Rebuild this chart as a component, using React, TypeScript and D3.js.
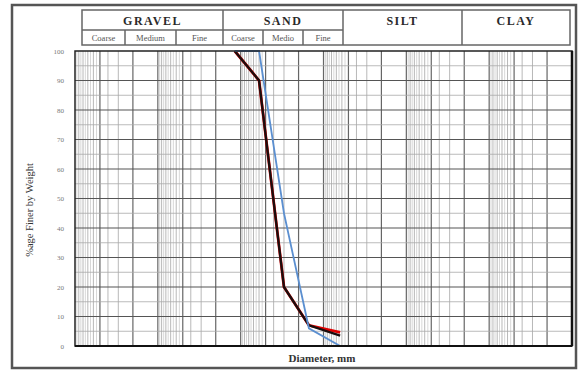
import React from 'react';
import * as d3 from 'd3';

// ---- data ----
const yTicks = [0, 10, 20, 30, 40, 50, 60, 70, 80, 90, 100];
const sieveSizes = [1.18, 0.6, 0.3, 0.15, 0.063];
const blackPassing = [100, 90, 20, 7, 3.5];
const redPassing = [100, 90, 20, 7, 4.6];
const blueSieves = [1.18, 0.6, 0.3, 0.15, 0.063];
const bluePassing = [100, 100, 45, 6, 0];

const soilGroups = ['GRAVEL', 'SAND', 'SILT', 'CLAY'];
const gravelSubs = ['Coarse', 'Medium', 'Fine'];
const sandSubs = ['Coarse', 'Medio', 'Fine'];

const W = 579, H = 372;
const plot = { left: 75, right: 572, top: 51, bottom: 346 };

export default function App() {
  const x = d3.scaleLog().domain([100, 0.0001]).range([plot.left, plot.right]);
  const y = d3.scaleLinear().domain([0, 100]).range([plot.bottom, plot.top]);

  // vertical grid values
  const vLines: { v: number; major: boolean; faint: boolean }[] = [];
  for (let k = -4; k <= 1; k++) {
    for (let m = 1; m <= 9; m++) {
      const v = m * Math.pow(10, k);
      vLines.push({ v, major: m === 1 || m === 2 || m === 5, faint: false });
    }
    for (const m of [5.5, 6.5, 7.5, 8.5, 9.5]) {
      vLines.push({ v: m * Math.pow(10, k), major: false, faint: true });
    }
  }
  const hLines: number[] = [];
  for (let v = 5; v < 100; v += 5) hLines.push(v);

  const line = d3.line<[number, number]>().x(d => x(d[0])).y(d => y(d[1]));
  const blackPts = sieveSizes.map((s, i) => [s, blackPassing[i]] as [number, number]);
  const redPts = sieveSizes.map((s, i) => [s, redPassing[i]] as [number, number]);
  const bluePts = blueSieves.map((s, i) => [s, bluePassing[i]] as [number, number]);

  // header table layout
  const hx = [82, 223, 343, 462, 570];
  const hTop = 10, hMid = 30, hBot = 45;
  const gravelDiv = [82, 125, 176, 223];
  const sandDiv = [223, 263, 303, 343];

  return (
    <svg width={W} height={H} style={{ position: 'absolute', left: 0, top: 0, background: '#fff' }}
      fontFamily="'Liberation Serif', 'DejaVu Serif', serif">
      <rect x={0} y={0} width={W} height={H} fill="#fff" />
      {/* outer frame */}
      <rect x={12} y={5} width={564} height={363} fill="none" stroke="#555" strokeWidth={2.5} />

      {/* header table */}
      <g stroke="#666" strokeWidth={1.5} fill="none">
        <rect x={hx[0]} y={hTop} width={hx[4] - hx[0]} height={hBot - hTop} />
        {hx.slice(1, 4).map((v, i) => <line key={i} x1={v} x2={v} y1={hTop} y2={hBot} />)}
        <line x1={hx[0]} x2={hx[2]} y1={hMid} y2={hMid} />
        {gravelDiv.slice(1, 3).map((v, i) => <line key={'g' + i} x1={v} x2={v} y1={hMid} y2={hBot} />)}
        {sandDiv.slice(1, 3).map((v, i) => <line key={'s' + i} x1={v} x2={v} y1={hMid} y2={hBot} />)}
      </g>
      {soilGroups.map((g, i) => (
        <text key={g} x={(hx[i] + hx[i + 1]) / 2} y={25} textAnchor="middle" fontSize={12}
          fontWeight="bold" letterSpacing={1.5} fill="#2a2a2a">{g}</text>
      ))}
      {gravelSubs.map((s, i) => (
        <text key={'gs' + i} x={(gravelDiv[i] + gravelDiv[i + 1]) / 2} y={41} textAnchor="middle" fontSize={8.5} fill="#555">{s}</text>
      ))}
      {sandSubs.map((s, i) => (
        <text key={'ss' + i} x={(sandDiv[i] + sandDiv[i + 1]) / 2} y={41} textAnchor="middle" fontSize={8.5} fill="#555">{s}</text>
      ))}

      {/* grid */}
      <g>
        {vLines.map((d, i) => (
          <line key={i} x1={x(d.v)} x2={x(d.v)} y1={plot.top} y2={plot.bottom}
            stroke={d.major ? '#666' : d.faint ? '#d8d8d8' : '#b8b8b8'} strokeWidth={d.major ? 1.2 : 1} />
        ))}
        {hLines.map(v => (
          <line key={v} x1={plot.left} x2={plot.right} y1={y(v)} y2={y(v)}
            stroke={v % 10 === 0 ? '#555' : '#aaa'} strokeWidth={v % 10 === 0 ? 1.1 : 0.8} />
        ))}
      </g>

      {/* curves */}
      <path d={line(redPts) || ''} fill="none" stroke="#e00000" strokeWidth={2.8} />
      <path d={line(blackPts) || ''} fill="none" stroke="#1a0d0d" strokeWidth={2.3} />
      <path d={line(bluePts) || ''} fill="none" stroke="#5b8fd0" strokeWidth={1.8} />

      {/* plot border */}
      <rect x={plot.left} y={plot.top} width={plot.right - plot.left} height={plot.bottom - plot.top}
        fill="none" stroke="#222" strokeWidth={1.5} />
      <line x1={plot.left} x2={plot.right} y1={plot.bottom} y2={plot.bottom} stroke="#111" strokeWidth={2} />
      <line x1={plot.right} x2={plot.right} y1={plot.top} y2={plot.bottom} stroke="#111" strokeWidth={2.5} />

      {/* y ticks */}
      {yTicks.map(t => (
        <text key={t} x={64} y={y(t) + 2.5} textAnchor="end" fontSize={7} fill="#777">{t}</text>
      ))}
      <text transform={`translate(33,${210}) rotate(-90)`} textAnchor="middle" fontSize={10.5} fill="#333">%age Finer by Weight</text>
      <text x={322} y={362} textAnchor="middle" fontSize={11} fontWeight="bold" fill="#333">Diameter, mm</text>
    </svg>
  );
}
